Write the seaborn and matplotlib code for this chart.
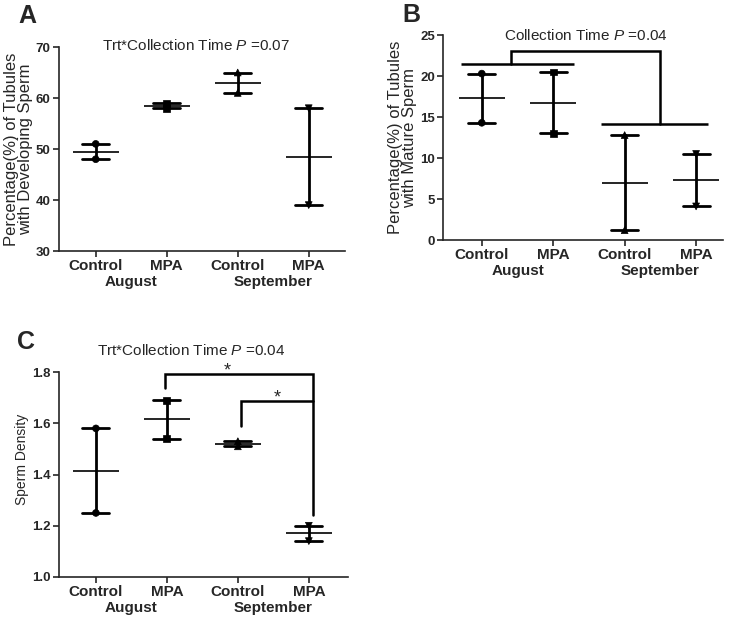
import numpy as np
import pandas as pd
import matplotlib
matplotlib.use("Agg")
import matplotlib.pyplot as plt
import seaborn as sns

# ---------------- data ----------------
groups = ["Control August", "MPA August", "Control September", "MPA September"]
tick_labels = ["Control", "MPA", "Control", "MPA"]
month_labels = ["August", "September"]

developing = {  # Panel A: % tubules with developing sperm
    "Control August": [51.0, 48.0],
    "MPA August": [58.0, 59.0],
    "Control September": [65.0, 61.0],
    "MPA September": [58.0, 39.0],
}
mature = {  # Panel B: % tubules with mature sperm
    "Control August": [20.3, 14.3],
    "MPA August": [20.5, 13.0],
    "Control September": [12.8, 1.2],
    "MPA September": [10.5, 4.1],
}
density = {  # Panel C: sperm density
    "Control August": [1.58, 1.25],
    "MPA August": [1.69, 1.54],
    "Control September": [1.53, 1.51],
    "MPA September": [1.20, 1.14],
}

titles = ["Trt*Collection Time $\\it{P}$ =0.07",
          "Collection Time $\\it{P}$ =0.04",
          "Trt*Collection Time $\\it{P}$ =0.04"]
ylabels = ["Percentage(%) of Tubules\nwith Developing Sperm",
           "Percentage(%) of Tubules\nwith Mature Sperm",
           "Sperm Density"]
panel_letters = ["A", "B", "C"]

# significance bracket levels (annotation)
b_low_left, b_top, b_low_right = 21.5, 23.0, 14.1
c_outer_top, c_outer_left_end, c_outer_right_end = 1.792, 1.739, 1.241
c_inner_top, c_inner_left_end = 1.687, 1.588

# ---------------- style ----------------
sns.set_style("ticks")
plt.rcParams["font.family"] = ["Liberation Sans", "DejaVu Sans"]
plt.rcParams["mathtext.fontset"] = "custom"
plt.rcParams["mathtext.rm"] = "Liberation Sans"
plt.rcParams["mathtext.it"] = "Liberation Sans:italic"
plt.rcParams["axes.linewidth"] = 1.2
plt.rcParams["xtick.major.width"] = 1.2
plt.rcParams["ytick.major.width"] = 1.2
plt.rcParams["xtick.major.size"] = 4.5
plt.rcParams["ytick.major.size"] = 4.5

markers = {"Control August": "o", "MPA August": "s",
           "Control September": "^", "MPA September": "v"}


def to_df(d):
    rows = []
    for i, g in enumerate(groups):
        for v in d[g]:
            rows.append({"group": g, "pos": i, "value": v})
    return pd.DataFrame(rows)


fig = plt.figure(figsize=(7.35, 6.21), dpi=100)
axA = fig.add_axes([0.0803, 0.5958, 0.389, 0.3285])
axB = fig.add_axes([0.603, 0.6135, 0.381, 0.330])
axC = fig.add_axes([0.0803, 0.0709, 0.393, 0.330])

configs = [
    (axA, developing, (30, 70), np.arange(30, 71, 10), (-0.517, 3.51), "{:.0f}", (0.478, 1.005), 18.5, 59, 286, 12, 0.5),
    (axB, mature, (0, 25), np.arange(0, 26, 5), (-0.54, 3.38), "{:.0f}", (0.509, 1.0), 402, 443, 280, 12, 0.5),
    (axC, density, (1.0, 1.8), np.arange(1.0, 1.81, 0.2), (-0.52, 3.55), "{:.1f}", (0.456, 1.103), 22, 59, 289, 10, 0.576),
]

for k, (ax, d, ylim, yt, xlim, fmt, tpos, ylpx, axpx, wpx, ylfs, yly) in enumerate(configs):
    df = to_df(d)
    sns.pointplot(data=df, x="group", y="value", order=groups, ax=ax,
                  estimator="mean", errorbar=("pi", 100), capsize=0.38,
                  color="black", linestyle="none", marker="_",
                  markersize=33, markeredgewidth=1.2,
                  err_kws={"linewidth": 2.0})
    sns.scatterplot(data=df, x="pos", y="value", style="group", markers=markers,
                    color="black", s=24, edgecolor="black", linewidth=0.5,
                    legend=False, ax=ax, zorder=5, clip_on=False)
    ax.set_xlim(*xlim)
    ax.set_ylim(*ylim)
    ax.set_yticks(yt)
    ax.set_yticklabels([fmt.format(v) for v in yt], fontsize=9.5, fontweight="bold")
    ax.set_xticks(range(len(groups)))
    ax.set_xticklabels(tick_labels, fontsize=11, fontweight="bold")
    ax.tick_params(axis="x", pad=1.5)
    ax.tick_params(axis="y", pad=1.5)
    ax.set_xlabel("")
    ax.set_ylabel(ylabels[k], fontsize=ylfs, linespacing=0.9)
    ax.yaxis.label.set_va("center")
    ax.yaxis.set_label_coords((ylpx - axpx) / wpx, yly)
    sns.despine(ax=ax)
    ax.text(tpos[0], tpos[1], titles[k], transform=ax.transAxes,
            ha="center", va="center", fontsize=11)
    for j, m in enumerate(month_labels):
        ax.annotate(m, xy=(0.5 + 2 * j, 0), xycoords=("data", "axes fraction"),
                    xytext=(0, -17), textcoords="offset points",
                    ha="center", va="top", fontsize=11, fontweight="bold")

# Panel B brackets
lw_b = 1.8
axB.plot([-0.29, 1.29], [b_low_left, b_low_left], color="black", lw=lw_b, solid_capstyle="butt")
axB.plot([0.41, 0.41, 2.50, 2.50], [b_low_left, b_top, b_top, b_low_right],
         color="black", lw=lw_b, solid_joinstyle="miter")
axB.plot([1.67, 3.17], [b_low_right, b_low_right], color="black", lw=lw_b, solid_capstyle="butt")

# Panel C brackets
axC.plot([0.98, 0.98, 3.06, 3.06], [c_outer_left_end, c_outer_top, c_outer_top, c_outer_right_end],
         color="black", lw=lw_b, solid_joinstyle="miter", clip_on=False)
axC.plot([2.04, 2.04, 3.06], [c_inner_left_end, c_inner_top, c_inner_top],
         color="black", lw=lw_b, solid_joinstyle="miter")
axC.text(1.85, c_outer_top - 0.004, "*", ha="center", va="baseline", fontsize=13)
axC.text(2.55, c_inner_top - 0.004, "*", ha="center", va="baseline", fontsize=13)

# Panel letters
fig.text(18 / 735, 1 - 4 / 621, "A", fontsize=18, fontweight="bold", va="top", ha="left")
fig.text(402 / 735, 1 - 3 / 621, "B", fontsize=18, fontweight="bold", va="top", ha="left")
fig.text(17 / 735, 1 - 330 / 621, "C", fontsize=18, fontweight="bold", va="top", ha="left")

fig.savefig("out.png", dpi=100)
